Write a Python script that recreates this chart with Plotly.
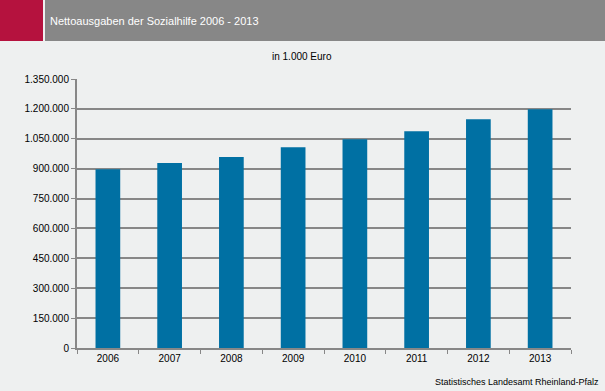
import plotly.graph_objects as go

years = ["2006", "2007", "2008", "2009", "2010", "2011", "2012", "2013"]
ausgaben = [897000, 928000, 958000, 1008000, 1048000, 1088000, 1148000, 1198000]

title_text = "Nettoausgaben der Sozialhilfe 2006 - 2013"
unit_text = "in 1.000 Euro"
source_text = "Statistisches Landesamt Rheinland-Pfalz"

BG = "#EEF0F0"
GRID = "#878787"
FONT = "Liberation Sans, Arial, sans-serif"

fig = go.Figure(go.Bar(x=years, y=ausgaben, marker=dict(color="#0070A3", line=dict(width=0)),
                       width=0.4))

fig.update_layout(
    width=605, height=391,
    paper_bgcolor=BG, plot_bgcolor=BG,
    margin=dict(l=77, r=34, t=79, b=43),
    separators=",.",
    showlegend=False,
    font=dict(family=FONT, size=10, color="#000000"),
    shapes=[
        dict(type="rect", xref="paper", yref="paper", x0=-77/494, x1=-34/494,
             y0=1 + 38/269, y1=1 + 79/269, fillcolor="#B5123E", line=dict(width=0), layer="above"),
        dict(type="rect", xref="paper", yref="paper", x0=-32/494, x1=1 + 34/494,
             y0=1 + 38/269, y1=1 + 79/269, fillcolor="#878787", line=dict(width=0), layer="above"),
    ],
    annotations=[
        dict(text=title_text, xref="paper", yref="paper", x=-29/494, y=1 + 58/269,
             xanchor="left", yanchor="middle", showarrow=False,
             font=dict(family=FONT, size=11, color="#FFFFFF")),
        dict(text=unit_text, xref="paper", yref="paper", x=(302 - 77)/494, y=1 + 23/269,
             xanchor="center", yanchor="middle", showarrow=False,
             font=dict(family=FONT, size=10, color="#000000")),
        dict(text=source_text, xref="paper", yref="paper", x=1 + 30/494, y=-34/269,
             xanchor="right", yanchor="middle", showarrow=False,
             font=dict(family=FONT, size=9, color="#000000")),
    ],
)

fig.update_xaxes(
    type="category", showline=True, linecolor=GRID, linewidth=2,
    ticks="outside", tickson="boundaries", ticklen=4, tickcolor=GRID, tickwidth=1,
    showgrid=False, tickfont=dict(family=FONT, size=10, color="#000000"),
)
fig.update_yaxes(
    range=[0, 1350000], dtick=150000, tick0=0, tickformat=",d",
    showline=True, linecolor=GRID, linewidth=2,
    ticks="outside", ticklen=4, tickcolor=GRID, tickwidth=1,
    showgrid=True, gridcolor=GRID, gridwidth=2, zeroline=False,
    tickfont=dict(family=FONT, size=10, color="#000000"),
)

fig.write_html("out.html",
               config={"displayModeBar": False},
               post_script="document.body.style.margin='0';document.body.style.padding='0';"
                           "document.body.style.overflow='hidden';")
